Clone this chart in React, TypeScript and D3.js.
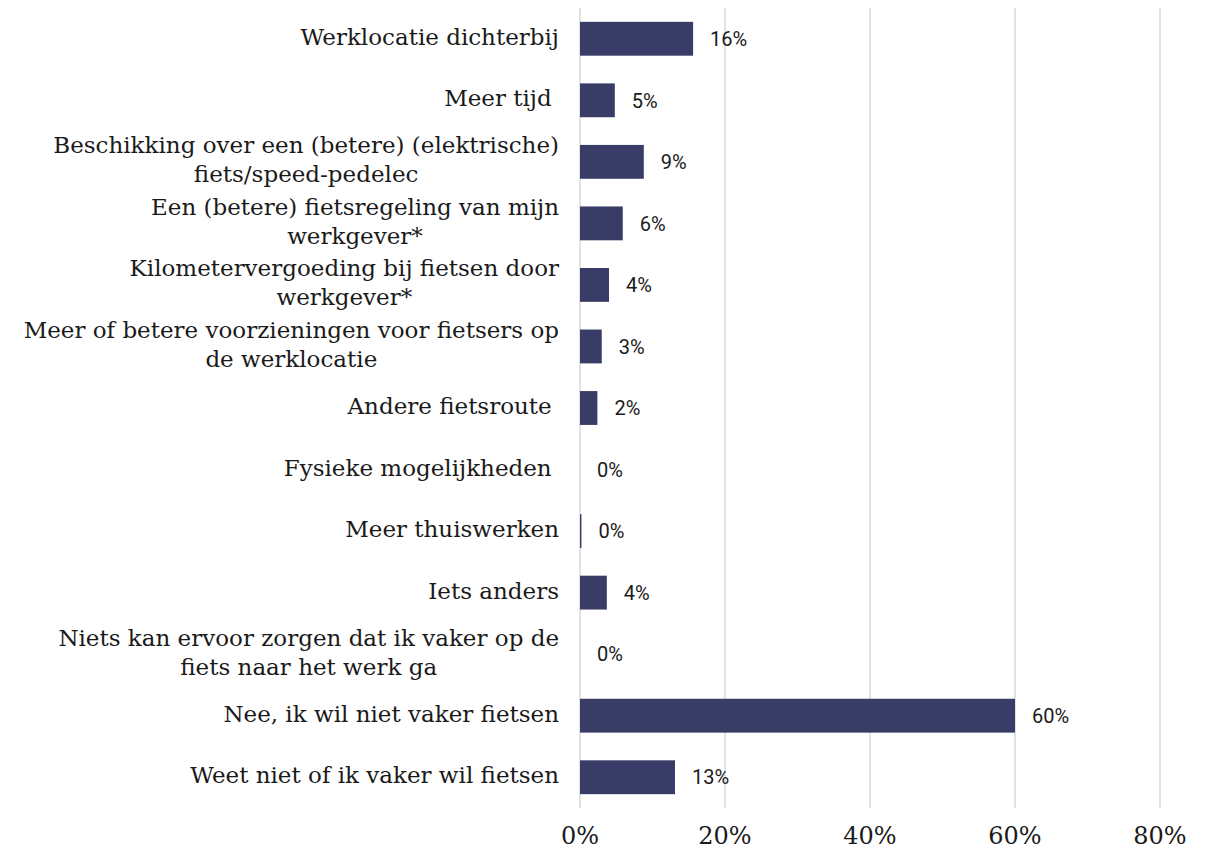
import React, { useEffect, useRef } from "react";
import * as d3 from "d3";

const categories: string[] = [
  "Werklocatie dichterbij",
  "Meer tijd ",
  "Beschikking over een (betere) (elektrische)\nfiets/speed-pedelec",
  "Een (betere) fietsregeling van mijn\nwerkgever*",
  "Kilometervergoeding bij fietsen door\nwerkgever*",
  "Meer of betere voorzieningen voor fietsers op\nde werklocatie",
  "Andere fietsroute ",
  "Fysieke mogelijkheden ",
  "Meer thuiswerken",
  "Iets anders",
  "Niets kan ervoor zorgen dat ik vaker op de\nfiets naar het werk ga",
  "Nee, ik wil niet vaker fietsen",
  "Weet niet of ik vaker wil fietsen",
];

const values: number[] = [15.6, 4.8, 8.8, 5.9, 4.0, 3.0, 2.4, 0, 0.2, 3.7, 0, 60.0, 13.1];

const xTicks: number[] = [0, 20, 40, 60, 80];

const W = 1211;
const H = 850;
const BAR_COLOR = "#383c66";
const GRID_COLOR = "#d9d9d9";
const LABEL_RIGHT = 559;
const CAT_FONT = "'DejaVu Serif', serif";
const CAT_SIZE = 23;
const LINE_H = 29;

export default function App() {
  const ref = useRef<SVGSVGElement>(null);

  useEffect(() => {
    const svg = d3.select(ref.current);
    svg.selectAll("*").remove();

    const x = d3.scaleLinear().domain([0, 80]).range([580, 1160]);
    const y = d3
      .scaleBand<number>()
      .domain(categories.map((_, i) => i))
      .range([8, 808])
      .paddingInner(0.45)
      .paddingOuter(0.225);

    // gridlines
    svg
      .append("g")
      .selectAll("line")
      .data(xTicks)
      .join("line")
      .attr("x1", (d) => x(d))
      .attr("x2", (d) => x(d))
      .attr("y1", 8)
      .attr("y2", 808)
      .attr("stroke", GRID_COLOR)
      .attr("stroke-width", 1.5);

    // tick labels
    svg
      .append("g")
      .selectAll("text")
      .data(xTicks)
      .join("text")
      .attr("x", (d) => x(d))
      .attr("y", 844)
      .attr("text-anchor", "middle")
      .attr("font-family", CAT_FONT)
      .attr("font-size", 24)
      .attr("fill", "#1a1a1a")
      .text((d) => `${d}%`);

    // bars
    svg
      .append("g")
      .selectAll("rect")
      .data(values)
      .join("rect")
      .attr("x", x(0))
      .attr("y", (_, i) => y(i)!)
      .attr("width", (d) => x(d) - x(0))
      .attr("height", y.bandwidth())
      .attr("fill", BAR_COLOR);

    // value labels
    svg
      .append("g")
      .selectAll("text")
      .data(values)
      .join("text")
      .attr("x", (d) => x(d) + 17)
      .attr("y", (_, i) => y(i)! + y.bandwidth() / 2)
      .attr("dy", "0.36em")
      .attr("font-family", "Roboto, sans-serif")
      .attr("font-size", 20)
      .attr("fill", "#1a1a1a")
      .text((d) => `${Math.round(d)}%`);

    // category labels
    const g = svg.append("g");
    categories.forEach((cat, i) => {
      const lines = cat.split("\n");
      const cy = y(i)! + y.bandwidth() / 2;
      const t = g
        .append("text")
        .attr("font-family", CAT_FONT)
        .attr("font-size", CAT_SIZE)
        .attr("fill", "#1a1a1a")
        .style("white-space", "pre");
      const spans = lines.map((ln, j) =>
        t
          .append("tspan")
          .attr("y", cy + 6 + (j - (lines.length - 1) / 2) * LINE_H)
          .text(ln)
      );
      let maxW = 0;
      spans.forEach((s) => {
        const w = (s.node() as SVGTextContentElement).getComputedTextLength();
        if (w > maxW) maxW = w;
      });
      spans.forEach((s) => s.attr("x", LABEL_RIGHT - maxW / 2));
      t.attr("text-anchor", "middle");
    });
  }, []);

  return (
    <svg
      ref={ref}
      width={W}
      height={H}
      style={{ position: "absolute", left: 0, top: 0, background: "#fff" }}
    />
  );
}
